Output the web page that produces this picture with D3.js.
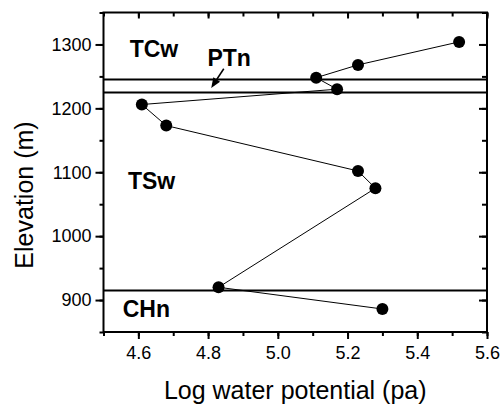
<!DOCTYPE html>
<html>
<head>
<meta charset="utf-8">
<script src="https://cdn.jsdelivr.net/npm/d3@7"></script>
<style>
  html, body { margin: 0; padding: 0; background: #fff; }
  svg { display: block; }
  text { font-family: "Liberation Sans", Arial, Helvetica, sans-serif; fill: #000; }
</style>
</head>
<body>
<svg id="chart" width="500" height="408"></svg>
<script>
// Measured profile: log water potential against elevation
const logPotential = [5.52, 5.23, 5.11, 5.17, 4.61, 4.68, 5.23, 5.28, 4.83, 5.30];
const elevation    = [1304, 1268, 1248, 1230, 1206, 1173, 1102, 1075, 920, 886];

// Unit boundaries (elevation, m)
const boundaries = [1245, 1225, 915];

// Unit names with anchor points in data units
const unitNames  = ["TCw", "PTn", "TSw", "CHn"];
const unitX      = [4.575, 4.798, 4.57, 4.555];
const unitY      = [1280, 1265.5, 1073.5, 873.5];

// Tick values
const xMajorTicks = [4.6, 4.8, 5.0, 5.2, 5.4, 5.6];
const xMinorTicks = [4.5, 4.6, 4.7, 4.8, 4.9, 5.0, 5.1, 5.2, 5.3, 5.4, 5.5, 5.6];
const yMajorTicks = [900, 1000, 1100, 1200, 1300];
const yMinorTicks = [850, 900, 950, 1000, 1050, 1100, 1150, 1200, 1250, 1300, 1350];

const svg = d3.select("#chart");
const plotLeft = 103.5, plotRight = 487, plotTop = 12.5, plotBottom = 332;

const x = d3.scaleLinear().domain([4.5, 5.6]).range([plotLeft, plotRight]);
const y = d3.scaleLinear().domain([850, 1350]).range([plotBottom, plotTop]);

function styleAxis(g) {
  g.select(".domain").remove();
  g.selectAll(".tick line").attr("stroke", "#000").attr("stroke-width", 2);
  g.selectAll(".tick text")
    .style("font-family", "'Liberation Sans', Arial, sans-serif")
    .style("font-size", "18px")
    .attr("fill", "#000");
}

// Bottom axis: outward ticks with labels
svg.append("g").attr("transform", `translate(0,${plotBottom})`)
  .call(d3.axisBottom(x).tickValues(xMinorTicks).tickSize(4).tickFormat(""))
  .call(styleAxis);
svg.append("g").attr("transform", `translate(0,${plotBottom})`)
  .call(d3.axisBottom(x).tickValues(xMajorTicks).tickSize(7).tickPadding(7).tickFormat(d3.format(".1f")))
  .call(styleAxis);

// Top axis: inward ticks
svg.append("g").attr("transform", `translate(0,${plotTop})`)
  .call(d3.axisBottom(x).tickValues(xMinorTicks).tickSize(4).tickFormat(""))
  .call(styleAxis);
svg.append("g").attr("transform", `translate(0,${plotTop})`)
  .call(d3.axisBottom(x).tickValues(xMajorTicks).tickSize(6).tickFormat(""))
  .call(styleAxis);

// Left axis: outward ticks with labels
svg.append("g").attr("transform", `translate(${plotLeft},0)`)
  .call(d3.axisLeft(y).tickValues(yMinorTicks).tickSize(4).tickFormat(""))
  .call(styleAxis);
svg.append("g").attr("transform", `translate(${plotLeft},0)`)
  .call(d3.axisLeft(y).tickValues(yMajorTicks).tickSize(8).tickPadding(4).tickFormat(d3.format("d")))
  .call(styleAxis);

// Right axis: inward ticks
svg.append("g").attr("transform", `translate(${plotRight},0)`)
  .call(d3.axisLeft(y).tickValues(yMinorTicks).tickSize(5).tickFormat(""))
  .call(styleAxis);
svg.append("g").attr("transform", `translate(${plotRight},0)`)
  .call(d3.axisLeft(y).tickValues(yMajorTicks).tickSize(8).tickFormat(""))
  .call(styleAxis);

// Plot frame
svg.append("rect")
  .attr("x", plotLeft).attr("y", plotTop)
  .attr("width", plotRight - plotLeft).attr("height", plotBottom - plotTop)
  .attr("fill", "none").attr("stroke", "#000").attr("stroke-width", 2);

// Unit boundary lines
svg.append("g").selectAll("line").data(boundaries).join("line")
  .attr("x1", plotLeft).attr("x2", plotRight)
  .attr("y1", d => y(d)).attr("y2", d => y(d))
  .attr("stroke", "#000").attr("stroke-width", 2);

// Profile line and markers
const pts = logPotential.map((v, i) => [v, elevation[i]]);
svg.append("path")
  .datum(pts)
  .attr("d", d3.line().x(d => x(d[0])).y(d => y(d[1])))
  .attr("fill", "none").attr("stroke", "#000").attr("stroke-width", 1);
svg.append("g").selectAll("circle").data(pts).join("circle")
  .attr("cx", d => x(d[0])).attr("cy", d => y(d[1]))
  .attr("r", 6).attr("fill", "#000");

// Unit labels
svg.append("g").selectAll("text").data(unitNames).join("text")
  .attr("x", (d, i) => x(unitX[i]))
  .attr("y", (d, i) => y(unitY[i]))
  .attr("font-size", 23).attr("font-weight", "bold")
  .text(d => d);

// Arrow pointing at the thin PTn layer
const arrowFrom = [4.845, 1262], arrowTo = [4.809, 1232];
const ax0 = x(arrowFrom[0]), ay0 = y(arrowFrom[1]);
const ax1 = x(arrowTo[0]), ay1 = y(arrowTo[1]);
const ang = Math.atan2(ay1 - ay0, ax1 - ax0);
const headLen = 10, headW = 4;
const bx = ax1 - headLen * Math.cos(ang), by = ay1 - headLen * Math.sin(ang);
svg.append("line")
  .attr("x1", ax0).attr("y1", ay0).attr("x2", bx).attr("y2", by)
  .attr("stroke", "#000").attr("stroke-width", 1.5);
svg.append("path")
  .attr("d", `M${ax1},${ay1} L${bx - headW * Math.sin(ang)},${by + headW * Math.cos(ang)} L${bx + headW * Math.sin(ang)},${by - headW * Math.cos(ang)} Z`)
  .attr("fill", "#000");

// Axis titles
svg.append("text")
  .attr("x", (plotLeft + plotRight) / 2).attr("y", 399)
  .attr("text-anchor", "middle").attr("font-size", 25)
  .text("Log water potential (pa)");
svg.append("text")
  .attr("transform", "translate(33,195) rotate(-90)")
  .attr("text-anchor", "middle").attr("font-size", 25)
  .text("Elevation (m)");
</script>
</body>
</html>
